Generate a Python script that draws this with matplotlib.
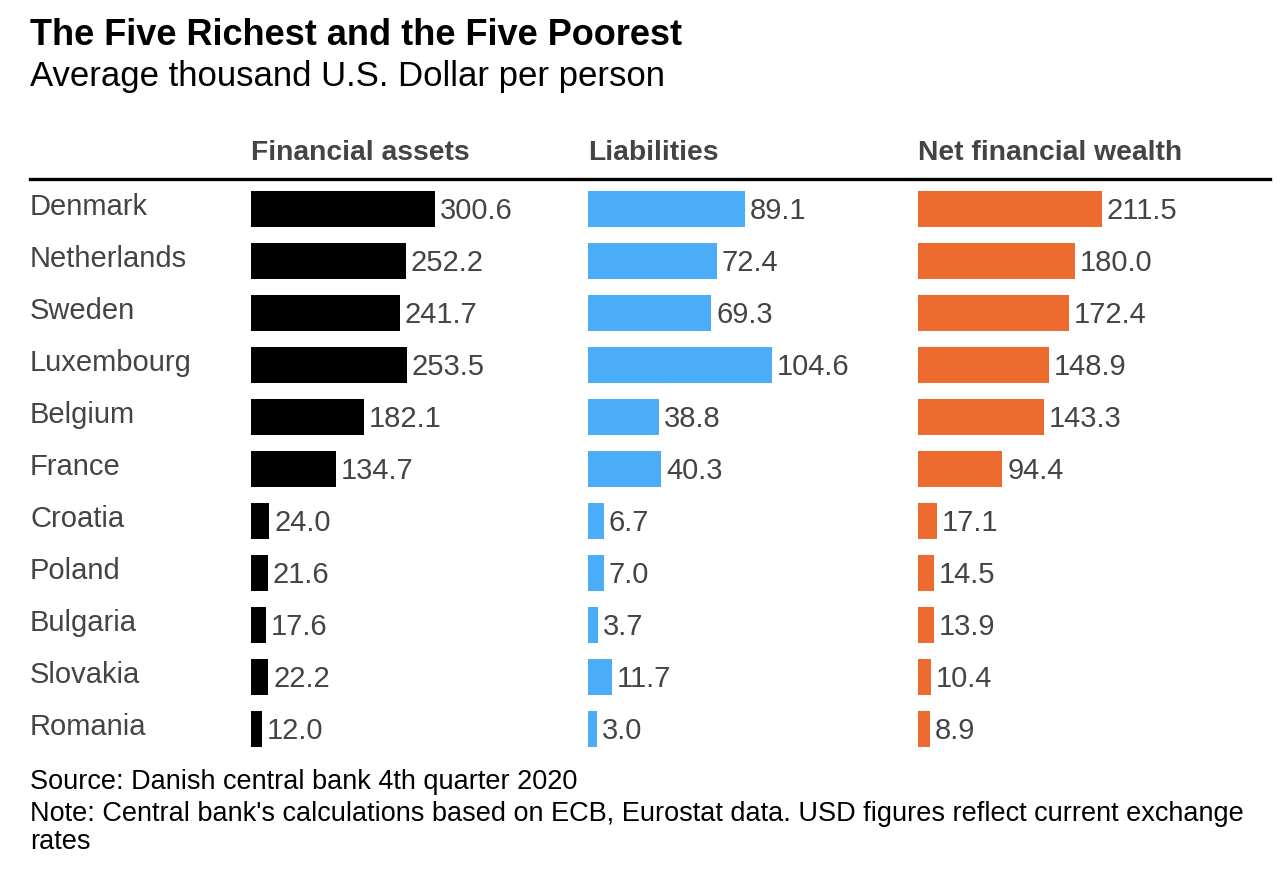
import matplotlib
matplotlib.use("Agg")
import matplotlib.pyplot as plt

countries = ["Denmark", "Netherlands", "Sweden", "Luxembourg", "Belgium", "France",
             "Croatia", "Poland", "Bulgaria", "Slovakia", "Romania"]
financial_assets = [300.6, 252.2, 241.7, 253.5, 182.1, 134.7, 24.0, 21.6, 17.6, 22.2, 12.0]
liabilities = [89.1, 72.4, 69.3, 104.6, 38.8, 40.3, 6.7, 7.0, 3.7, 11.7, 3.0]
net_wealth = [211.5, 180.0, 172.4, 148.9, 143.3, 94.4, 17.1, 14.5, 13.9, 10.4, 8.9]
column_titles = ["Financial assets", "Liabilities", "Net financial wealth"]

W, H = 1288, 878
plt.rcParams['font.family'] = ['Liberation Sans', 'DejaVu Sans']
fig = plt.figure(figsize=(W / 100, H / 100), dpi=100)
fig.patch.set_facecolor("white")

def fx(px):
    return px / W

def fy(py):
    return 1 - py / H

TXT = "#444444"

# Title / subtitle
fig.text(fx(30), fy(45), "The Five Richest and the Five Poorest", fontsize=26,
         fontweight="bold", color="black", va="baseline", ha="left")
fig.text(fx(30), fy(86), "Average thousand U.S. Dollar per person", fontsize=25,
         color="black", va="baseline", ha="left")

# Header rule
fig.add_artist(plt.Line2D([fx(30), fx(1270)], [fy(179.5), fy(179.5)],
                          color="black", linewidth=2.4, transform=fig.transFigure))

series = [financial_assets, liabilities, net_wealth]
colors = ["#000000", "#4BADF7", "#EE6B2F"]
starts = [251, 588, 918]
bar_max_px = 180      # length of the longest bar beyond the stub
stub_px = 4           # minimal stub every bar has
ax_w_px = 330
row_h = 52
top_px = 210 - row_h / 2
n = len(countries)

for vals, col, x0, title in zip(series, colors, starts, column_titles):
    ax = fig.add_axes([fx(x0), fy(top_px + n * row_h), fx(ax_w_px), n * row_h / H])
    ypos = list(range(n))
    vmax = max(vals)
    dpp = vmax / bar_max_px  # data units per pixel
    ax.barh(ypos, [v + stub_px * dpp for v in vals], left=-stub_px * dpp,
            height=36 / row_h, color=col, align="center")
    ax.set_xlim(-stub_px * dpp, -stub_px * dpp + ax_w_px * dpp)
    ax.set_ylim(n - 0.5, -0.5)
    ax.axis("off")
    for y, v in zip(ypos, vals):
        ax.annotate(f"{v:.1f}", (v, y), xytext=(3.5, -1), textcoords="offset points",
                    ha="left", va="center", fontsize=21, color=TXT)
    fig.text(fx(x0), fy(160), title, fontsize=20.3, fontweight="bold", color=TXT,
             va="baseline", ha="left")

for i, c in enumerate(countries):
    fig.text(fx(30), fy(207 + i * row_h), c, fontsize=21, color=TXT,
             va="center", ha="left")

fig.text(fx(30), fy(789), "Source: Danish central bank 4th quarter 2020", fontsize=19.5,
         color="black", va="baseline", ha="left")
fig.text(fx(30), fy(821), "Note: Central bank's calculations based on ECB, Eurostat data. USD figures reflect current exchange",
         fontsize=19.5, color="black", va="baseline", ha="left")
fig.text(fx(30), fy(849), "rates", fontsize=19.5, color="black", va="baseline", ha="left")

fig.savefig("out.png", dpi=100, facecolor="white")
